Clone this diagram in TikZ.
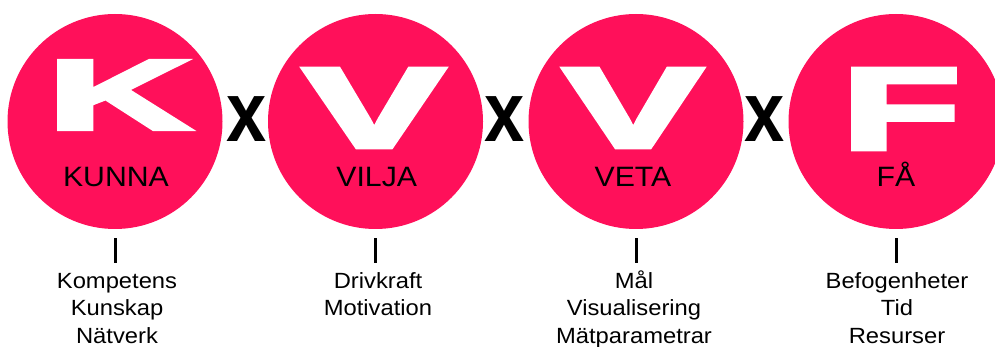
\documentclass[tikz,border=0pt]{standalone}
\usepackage{graphicx}
\usepackage{fontspec}
\setmainfont{Liberation Sans}[FakeStretch=1.08]
\newfontfamily\heavyfont{Liberation Sans Bold}[FakeBold=4]
\newfontfamily\timesfont{Liberation Sans Bold}[FakeStretch=0.85]
\definecolor{hotpink}{RGB}{255,16,90}
\begin{document}
\begin{tikzpicture}[x=1pt,y=-1pt,
  disc/.style={circle,fill=hotpink,minimum size=215pt,inner sep=0pt},
  glyph/.style={text=white,inner sep=0pt},
  caption/.style={inner sep=0pt,anchor=base,font=\fontsize{28}{30}\selectfont},
  times/.style={inner sep=0pt,anchor=base,font=\timesfont\fontsize{85}{90}\selectfont},
  items/.style={inner sep=0pt,anchor=north,align=center,font=\fontsize{22}{27.5}\selectfont},
  tick/.style={line width=3pt}]
\useasboundingbox (0,0) rectangle (995,347);
\clip (0,0) rectangle (995,347);

% the four discs
\node[disc] (kunna) at (115,121.5) {};
\node[disc] (vilja) at (375.5,121.5) {};
\node[disc] (veta)  at (636,121.5) {};
\node[disc] (fa)    at (896,121.5) {};

% large initials
\node[glyph] (kinit) at (119,95) {\resizebox{142pt}{68pt}{\heavyfont K}};
\node[glyph] (vinit) at (374,108) {\resizebox{140pt}{78pt}{\heavyfont V}};
\node[glyph] (winit) at (633,108) {\resizebox{138pt}{78pt}{\heavyfont V}};
\node[glyph] (finit) at (901,109) {\resizebox{118pt}{80pt}{\heavyfont F}};

% captions inside the discs
\node[caption] (kcap) at (116,186.7) {KUNNA};
\node[caption] (vcap) at (376.7,186.7) {VILJA};
\node[caption] (wcap) at (633,186.7) {VETA};
\node[caption] (fcap) at (896,186.7) {FÅ};

% multiplication signs
\node[times] (x1) at (247,142) {x};
\node[times] (x2) at (505,142) {x};
\node[times] (x3) at (765,142) {x};

% ticks below the discs
\draw[tick] ([yshift=-9pt]kunna.south) -- ([yshift=-34pt]kunna.south);
\draw[tick] ([yshift=-9pt]vilja.south) -- ([yshift=-34pt]vilja.south);
\draw[tick] ([yshift=-9pt]veta.south) -- ([yshift=-34pt]veta.south);
\draw[tick] ([yshift=-9pt]fa.south) -- ([yshift=-34pt]fa.south);

% lists
\node[items] (klist) at (117,268) {\rule{0pt}{20pt}Kompetens\\Kunskap\\Nätverk};
\node[items] (vlist) at (378,268) {\rule{0pt}{20pt}Drivkraft\\Motivation};
\node[items] (wlist) at (634,268) {\rule{0pt}{20pt}Mål\\Visualisering\\Mätparametrar};
\node[items] (flist) at (897,268) {\rule{0pt}{20pt}Befogenheter\\Tid\\Resurser};
\end{tikzpicture}
\end{document}
